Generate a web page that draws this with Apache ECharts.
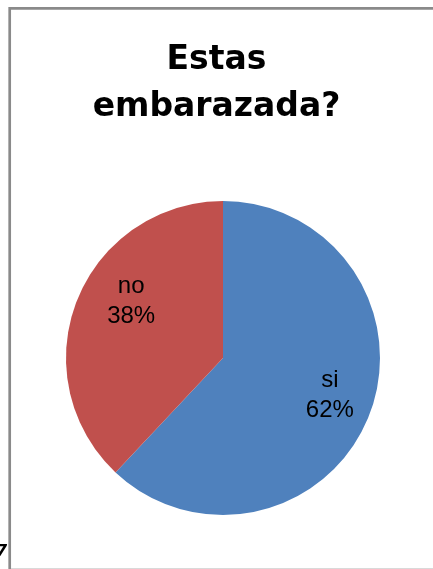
<!DOCTYPE html>
<html>
<head>
<meta charset="utf-8">
<script src="https://cdn.jsdelivr.net/npm/echarts@6/dist/echarts.min.js"></script>
<style>
  html, body { margin: 0; padding: 0; background: #fff; }
  #chart { width: 433px; height: 569px; }
</style>
</head>
<body>
<div id="chart"></div>
<script>
const titleText = 'Estas\nembarazada?';
const categories = ['si', 'no'];
const values = [62, 38];
const colors = ['#4F81BD', '#C0504D'];
// small nudges so labels sit where the original puts them
const labelOffsets = [[5, -3], [10, -16]];

const pieData = categories.map((name, i) => ({
  name,
  value: values[i],
  itemStyle: { color: colors[i] }
}));

const labelData = categories.map((name, i) => ({
  name,
  value: values[i],
  label: { offset: labelOffsets[i] }
}));

const myChart = echarts.init(document.getElementById('chart'));
myChart.setOption({
  animation: false,
  title: {
    text: titleText,
    left: 'center',
    top: 32,
    textStyle: {
      fontFamily: 'DejaVu Sans',
      fontWeight: 'bold',
      fontSize: 33,
      lineHeight: 47,
      color: '#000'
    }
  },
  graphic: [
    { type: 'line', shape: { x1: 9.7, y1: 8.3, x2: 433, y2: 8.3 }, style: { stroke: '#8a8a8a', lineWidth: 2.7 } },
    { type: 'line', shape: { x1: 9.7, y1: 7, x2: 9.7, y2: 569 }, style: { stroke: '#8a8a8a', lineWidth: 2.7 } },
    { type: 'line', shape: { x1: 11, y1: 568.5, x2: 433, y2: 568.5 }, style: { stroke: '#d9d9d9', lineWidth: 1 } },
    { type: 'text', x: -4, y: 544, style: { text: '7', font: 'bold italic 16px "DejaVu Sans"', fill: '#000' } }
  ],
  series: [
    {
      type: 'pie',
      center: [223, 358],
      radius: [0, 157],
      startAngle: 90,
      clockwise: true,
      silent: true,
      label: { show: false },
      labelLine: { show: false },
      data: pieData
    },
    {
      type: 'pie',
      center: [223, 358],
      radius: [56, 157],
      startAngle: 90,
      clockwise: true,
      silent: true,
      itemStyle: { color: 'transparent' },
      label: {
        show: true,
        position: 'inside',
        formatter: '{b}\n{d}%',
        fontFamily: 'Liberation Sans',
        fontSize: 24,
        lineHeight: 30,
        color: '#000'
      },
      labelLine: { show: false },
      data: labelData
    }
  ]
});
</script>
</body>
</html>
